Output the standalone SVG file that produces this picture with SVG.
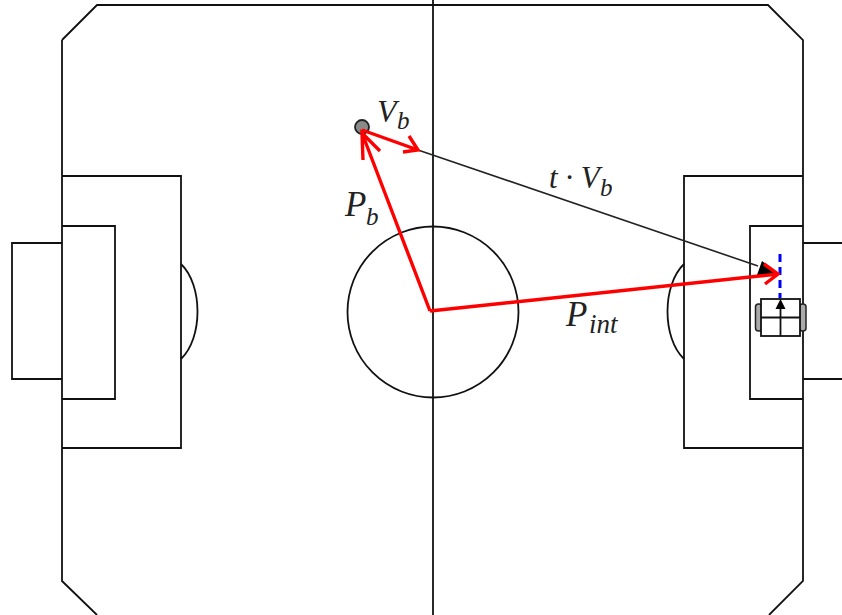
<svg xmlns="http://www.w3.org/2000/svg" width="842" height="615" viewBox="0 0 842 615">
<style>
.f{fill:none;stroke:#111;stroke-width:1.8}
.r{fill:none;stroke:#f00;stroke-width:3.4}
.g{fill:#aaa;stroke:#222;stroke-width:1.500}
.t{font-family:"Liberation Serif",serif;font-style:italic;fill:#222}
.b{font-size:35px}.s{font-size:25px}
</style>
<rect width="842" height="615" fill="#fff"/>
<g id="field">
<path class="f" d="M62 40L97 5H768L803 40V581L769 615M97 615L62 581V40"/>
<path class="f" d="M433 0V615"/>
<circle class="f" cx="433" cy="312" r="85.500"/>
<path class="f" d="M62 176H181V448H62M62 226H115V399H62M62 243H12V379H62"/>
<path class="f" d="M803 176H684V448H803M803 226H750V399H803M803 243H842M803 379H842"/>
<path class="f" d="M181 264C203 285 203 338 181 359M684 264C662 285 662 338 684 359"/>
</g>
<g id="robot">
<rect x="755.500" y="304" width="6.500" height="27" rx="3" class="g"/>
<rect x="799.500" y="304" width="6.500" height="27" rx="3" class="g"/>
<rect x="761" y="299" width="39" height="37" fill="#fff" stroke="#111" stroke-width="1.800"/>
<path class="f" d="M761 317.500H800M780.500 308V336"/>
<path d="M775.500 309L780.500 299L785.500 309Z" fill="#000"/>
</g>
<g id="ball"><circle cx="362" cy="127" r="7" fill="#8a8a8a" stroke="#222" stroke-width="1.800"/></g>
<g id="connectors">
<path d="M780 254V298" fill="none" stroke="#00f" stroke-width="3" stroke-dasharray="8 5"/>
<path d="M418 150L758 266" fill="none" stroke="#222" stroke-width="1.600"/>
<path d="M779 274L762 261L757 275Z" fill="#000"/>
<path class="r" d="M430 311L362 133M363 160L362 133L380 151"/>
<path class="r" d="M362 130L418 150M409 136L418 150L403 152"/>
<path class="r" d="M430 311L778 274M764 264L778 274L765 284"/>
</g>
<g id="labels">
<text class="t" x="377" y="122" style="font-size:32px">V</text><text class="t s" x="397" y="129">b</text>
<text class="t b" x="345" y="216">P</text><text class="t s" x="366" y="225">b</text>
<text class="t" x="549" y="188" style="font-size:31px">t · V</text><text class="t s" x="600" y="196">b</text>
<text class="t b" x="566" y="326">P</text><text class="t s" x="589" y="333" style="font-size:27px">int</text>
</g>
</svg>
